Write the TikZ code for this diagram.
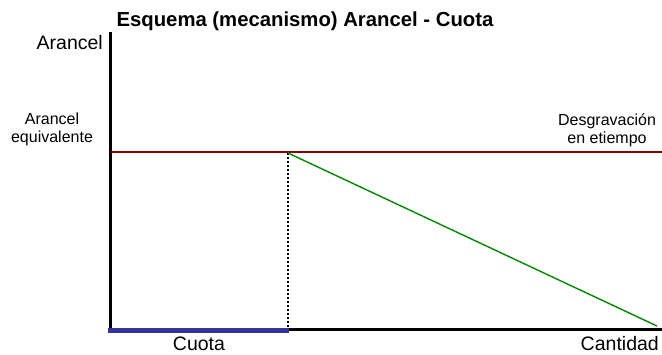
\documentclass[tikz,border=0pt]{standalone}
\usepackage{fontspec}
\setmainfont{Liberation Sans}
\begin{document}
\begin{tikzpicture}[x=1pt,y=-1pt,
  lbl/.style={inner sep=0pt,font=\fontsize{19.5}{22}\selectfont},
  small/.style={inner sep=0pt,font=\fontsize{16}{20}\selectfont,align=center},
  ttl/.style={inner sep=0pt,font=\fontsize{20.3}{22}\selectfont\bfseries},
  axis/.style={line width=3pt,black},
  quota/.style={line width=5pt},
  tariff/.style={line width=2.2pt},
  decline/.style={line width=1.4pt},
  guide/.style={line width=2pt,dotted,black}]
\useasboundingbox (0,0) rectangle (662,354);
\definecolor{qblue}{RGB}{51,51,153}
\definecolor{tred}{RGB}{139,0,0}
\definecolor{dgreen}{RGB}{0,136,0}
\coordinate (top) at (110,32);
\coordinate (origin) at (110,329);
\coordinate (xend) at (662,329);
\coordinate (qstart) at (108,330);
\coordinate (qend) at (289,330);
\coordinate (rstart) at (111,152);
\coordinate (rend) at (662,152);
\coordinate (kink) at (288,153);
\coordinate (kbase) at (288,327);
\coordinate (gend) at (657,326);
\draw[axis] (top) -- (origin) -- (xend);
\draw[guide] (kink) -- (kbase);
\draw[quota,color=qblue] (qstart) -- (qend);
\draw[tariff,color=tred] (rstart) -- (rend);
\draw[decline,color=dgreen] (kink) -- (gend);
\node[ttl,anchor=base] (title) at (305,26) {Esquema (mecanismo) Arancel - Cuota};
\node[lbl,anchor=base east] (ylab) at (103,49) {Arancel};
\node[small,anchor=base] (aeq1) at (52,124) {Arancel};
\node[small,anchor=base] (aeq2) at (52,142) {equivalente};
\node[small,anchor=base] (des1) at (607,125) {Desgravación};
\node[small,anchor=base] (des2) at (607,143) {en etiempo};
\node[lbl,anchor=base] (cuota) at (199,350) {Cuota};
\node[lbl,anchor=base east] (cant) at (659,350) {Cantidad};
\end{tikzpicture}
\end{document}
